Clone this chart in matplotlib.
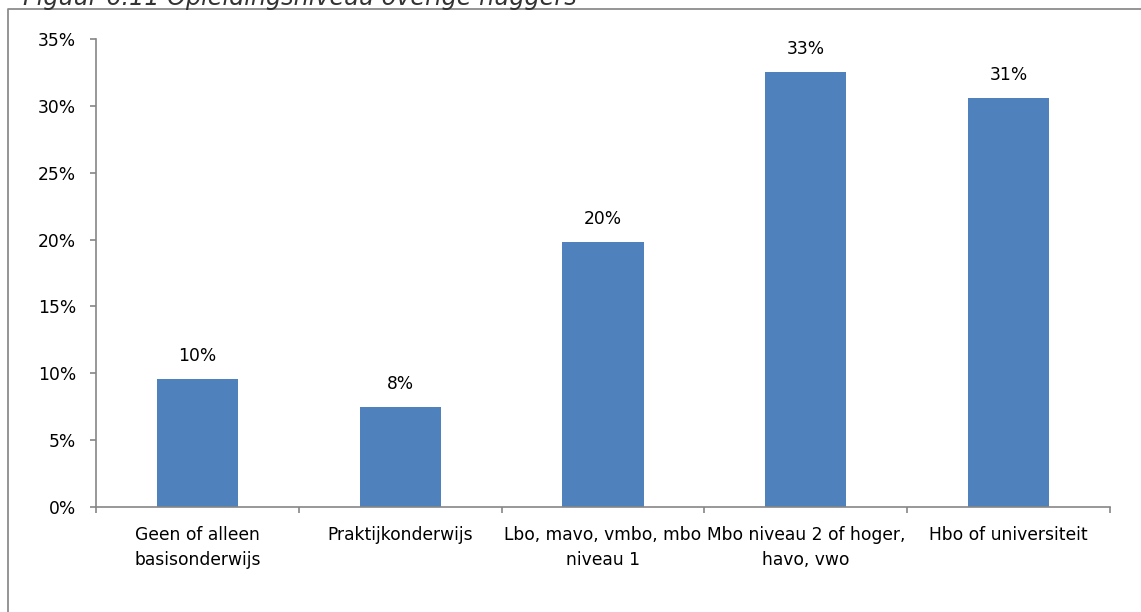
import matplotlib
matplotlib.use("Agg")
import matplotlib.pyplot as plt
from matplotlib.lines import Line2D
from matplotlib.ticker import PercentFormatter

# Opleidingsniveau overige huggers (share of respondents)
categories = ["Geen of alleen\nbasisonderwijs", "Praktijkonderwijs",
              "Lbo, mavo, vmbo, mbo\nniveau 1", "Mbo niveau 2 of hoger,\nhavo, vwo",
              "Hbo of universiteit"]
values = [0.096, 0.075, 0.198, 0.325, 0.306]
bar_labels = ["10%", "8%", "20%", "33%", "31%"]

BAR = "#4F81BD"
AXIS = "#868686"
FONT = "DejaVu Sans"
FS = 12.3

fig = plt.figure(figsize=(11.41, 6.12), dpi=100)
ax = fig.add_axes([96 / 1141, 1 - 507 / 612, (1110 - 96) / 1141, (507 - 39) / 612])

x = list(range(len(categories)))
bars = ax.bar(x, values, width=0.4, color=BAR, zorder=2)
for b, lab in zip(bars, bar_labels):
    ax.annotate(lab, (b.get_x() + b.get_width() / 2, b.get_height()),
                xytext=(0, 13), textcoords="offset points", ha="center", va="baseline",
                fontsize=FS, family=FONT, color="black")

ax.set_xlim(-0.5, len(categories) - 0.5)
ax.set_ylim(0, 0.35)
ax.set_yticks([i * 0.05 for i in range(8)])
ax.yaxis.set_major_formatter(PercentFormatter(1.0, decimals=0))

# category labels at bar centres, tick marks on the boundaries
ax.set_xticks(x)
ax.set_xticklabels(categories, family=FONT, fontsize=FS, linespacing=1.45)
ax.set_xticks([i - 0.5 for i in range(len(categories) + 1)], minor=True)
ax.tick_params(axis="x", which="major", length=0, pad=14)
ax.tick_params(axis="x", which="minor", length=4.3, width=1.2, color=AXIS, direction="out")
ax.tick_params(axis="y", length=4.3, width=1.2, color=AXIS, pad=10, labelsize=FS)
for t in ax.get_yticklabels():
    t.set_family(FONT)

for s in ("top", "right"):
    ax.spines[s].set_visible(False)
for s in ("left", "bottom"):
    ax.spines[s].set_color(AXIS)
    ax.spines[s].set_linewidth(1.2)

# chart area frame (only left and top edges visible in the crop)
fx, fy = 8 / 1141, 1 - 9 / 612
fig.add_artist(Line2D([fx, fx, 1.0], [0.0, fy, fy], transform=fig.transFigure,
                      color="#8C8C8C", lw=1.3))

# figure caption, cut off by the top edge
fig.text(23 / 1141, 1 - 5 / 612, "Figuur 6.11 Opleidingsniveau overige huggers",
         family="DejaVu Sans", style="italic", fontsize=17.2, color="#333333",
         ha="left", va="baseline")

fig.savefig("out.png", dpi=100, facecolor="white")
